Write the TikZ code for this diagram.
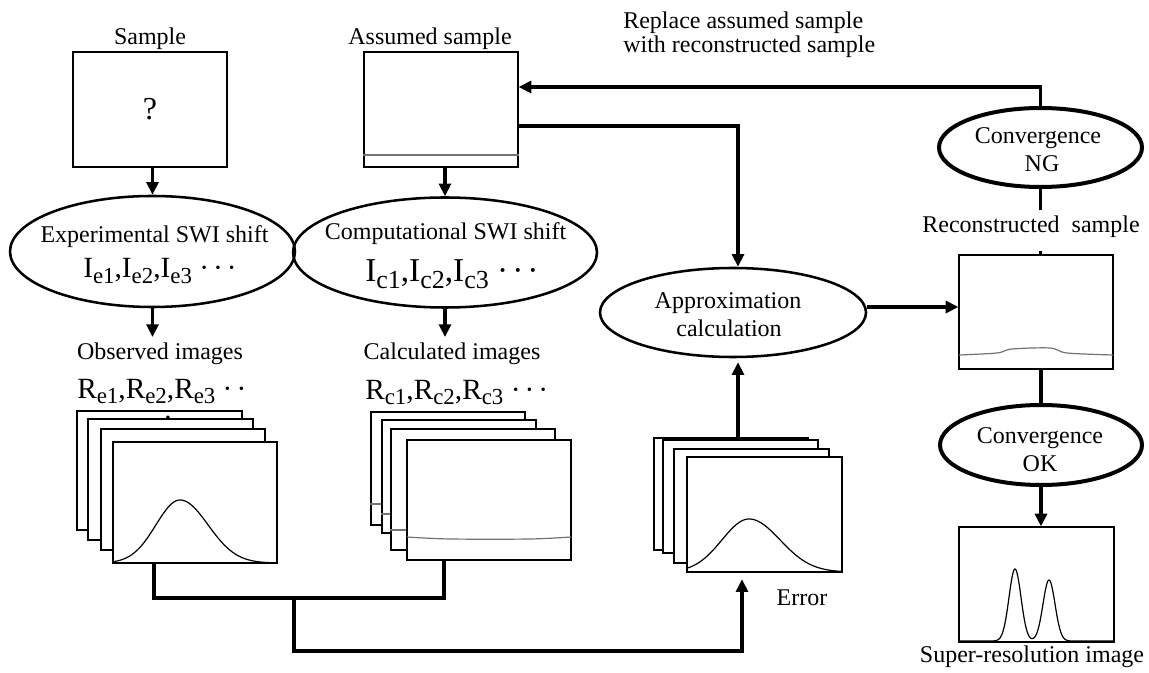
\documentclass[tikz,border=0pt]{standalone}
\usepackage{fontspec}
\setmainfont{Liberation Serif}
\usepackage{graphicx}
\usetikzlibrary{shapes.geometric,arrows.meta}
\newdimen\px \px=0.75pt
\newcommand\sbx[1]{\raisebox{-0.2em}{\scalebox{0.78}{#1}}}
\newcommand\mydots[1]{·\hspace{#1}·\hspace{#1}·}
\newcommand\mytwodots[1]{·\hspace{#1}·}
\begin{document}
\begin{tikzpicture}[x=0.75pt,y=-0.75pt,
  txt/.style={font=\fontsize{18pt}{21pt}\selectfont, inner sep=0pt, anchor=base},
  big/.style={font=\fontsize{22pt}{22pt}\selectfont},
  frame/.style={draw, line width=0.9pt, inner sep=0pt, fill=white},
  oval/.style={ellipse, draw, line width=1.9pt, inner sep=0pt},
  boldoval/.style={ellipse, draw, line width=3pt, inner sep=0pt},
  wire/.style={line width=2.3pt},
  arrow/.style={line width=2.3pt, -{Triangle[length=9.5pt,width=9pt]}},
  layer/.style={draw=black!55, line width=0.9pt},
  curve/.style={line width=0.9pt}]
\useasboundingbox (0,0) rectangle (1149,673);

% ---------- top boxes ----------
\node[frame, minimum width=154\px, minimum height=115\px, font=\fontsize{24pt}{24pt}\selectfont] (samp) at (150,109.5) {?};
\node[txt] (lsamp) at (150,45) {Sample};
\node[frame, minimum width=154\px, minimum height=115\px] (assm) at (441,109.5) {};
\draw[layer] (assm.west |- 0,155) -- (assm.east |- 0,155);
\node[txt] (lassm) at (430,45) {Assumed sample};
\node[txt, anchor=base west] (rep1) at (623,29) {Replace assumed sample};
\node[txt, anchor=base west] (rep2) at (623,53) {with reconstructed sample};

% ---------- SWI ellipses ----------
\node[oval, minimum width=285\px, minimum height=111\px] (expell) at (152.5,251.5) {};
\node[oval, minimum width=304\px, minimum height=110\px] (compell) at (445,252.5) {};
\node[txt] (texp) at (154.5,243) {Experimental SWI shift};
\node[txt] (tcomp) at (445.5,240) {Computational SWI shift};
\node[txt, anchor=base west, font=\fontsize{22pt}{22pt}\selectfont] (iexp) at (83,278) {I\sbx{e1},I\sbx{e2},I\sbx{e3}\ \mydots{3pt}};
\node[txt, anchor=base west, font=\fontsize{25pt}{25pt}\selectfont] (icomp) at (365,282) {I\sbx{c1},I\sbx{c2},I\sbx{c3}\ \mydots{3pt}};

\draw[arrow] (samp.south -| expell.north) -- (expell.north);
\draw[arrow] (assm.south -| compell.north) -- (compell.north);
\coordinate (obtip) at (152.5,337);
\coordinate (cctip) at (445,337);
\draw[arrow] (expell.south) -- (obtip);
\draw[arrow] (compell.south) -- (cctip);

% ---------- image labels ----------
\node[txt] (lobs) at (160,360) {Observed images};
\node[txt] (lcal) at (452,359) {Calculated images};
\node[txt, big, anchor=base west] (rexp) at (77,398) {R\sbx{e1},R\sbx{e2},R\sbx{e3}\ \mytwodots{3pt}};
\node[txt, big, anchor=base west] (rcal) at (365,399) {R\sbx{c1},R\sbx{c2},R\sbx{c3}\ \mydots{3pt}};

% ---------- observed stack ----------
\node[frame, minimum width=165\px, minimum height=119\px] (o1) at (159.5,470.5) {};
\node[frame, minimum width=165\px, minimum height=121\px] (o2) at (170.5,479.5) {};
\node[frame, minimum width=164\px, minimum height=121\px] (o3) at (183,489.5) {};
\node[frame, minimum width=164\px, minimum height=121\px] (o4) at (195,502.5) {};
\draw[curve] plot[domain=113:180, samples=60, smooth] (\x, {563-63*exp(max(-10,-0.5*((\x-180)/24)*((\x-180)/24)))})
  -- plot[domain=180:277, samples=80, smooth] (\x, {563-63*exp(max(-10,-0.5*((\x-180)/28)*((\x-180)/28)))});
\node[txt, big] (rdot) at (168,427) {·};

% ---------- calculated stack ----------
\node[frame, minimum width=154\px, minimum height=113\px] (c1) at (448,468.5) {};
\draw[layer] (c1.west |- 0,504) -- (c1.east |- 0,504);
\node[frame, minimum width=154\px, minimum height=113\px] (c2) at (459,476.5) {};
\draw[layer] (c2.west |- 0,514) -- (c2.east |- 0,514);
\node[frame, minimum width=164\px, minimum height=121\px] (c3) at (473,489.5) {};
\draw[layer] (c3.west |- 0,530) -- (c3.east |- 0,530);
\node[frame, minimum width=164\px, minimum height=120\px] (c4) at (489,500) {};
\draw[layer] plot[smooth] coordinates {(407,537) (450,539) (530,539) (571,537)};

% ---------- error stack ----------
\node[frame, minimum width=154\px, minimum height=112\px] (e1) at (731,494) {};
\node[frame, minimum width=155\px, minimum height=113\px] (e2) at (740.5,496.5) {};
\node[frame, minimum width=155\px, minimum height=114\px] (e3) at (751.5,506) {};
\node[frame, minimum width=155\px, minimum height=115\px] (e4) at (764.5,514.5) {};
\draw[curve] plot[domain=687:749, samples=60, smooth] (\x, {572-53*exp(max(-10,-0.5*((\x-749)/27)*((\x-749)/27)))})
  -- plot[domain=749:842, samples=80, smooth] (\x, {572-53*exp(max(-10,-0.5*((\x-749)/31)*((\x-749)/31)))});
\node[txt] (lerr) at (802,605) {Error};

% ---------- approximation ----------
\node[oval, minimum width=266\px, minimum height=89\px] (approxell) at (733,312.5) {};
\node[txt] (tap1) at (728,309) {Approximation};
\node[txt] (tap2) at (729,337) {calculation};
\coordinate (ac) at (738,126);
\draw[arrow] (assm.east |- ac) -- (ac) -- (ac |- approxell.north);
\draw[arrow, shorten >=3pt] (e1.north -| ac) -- (ac |- approxell.south);

% ---------- right column ----------
\node[frame, minimum width=154\px, minimum height=114\px] (recon) at (1036,312) {};
\draw[layer] plot[smooth] coordinates {(959,355) (997,353) (1012,349) (1050,348) (1067,353) (1113,355)};
\node[txt] (lrecon) at (1031,233) {Reconstructed\ \ sample};
\draw[arrow] (approxell.east |- 0,307) -- (recon.west |- 0,307);

\node[boldoval, minimum width=203\px, minimum height=79\px] (ngell) at (1040.5,147.5) {};
\node[txt] (tng1) at (1038,144) {Convergence};
\node[txt] (tng2) at (1042,172) {NG};
\coordinate (fb) at (1040.5,87);
\draw[arrow] (ngell.north) -- (fb) -- (fb -| assm.east);
\coordinate (ngstub) at (1040.5,210);
\draw[wire] (ngell.south) -- (ngstub);
\draw[wire] (recon.north -| ngstub) -- ++(0,-3);

\node[boldoval, minimum width=202\px, minimum height=80\px] (okell) at (1041,445) {};
\node[txt] (tok1) at (1040,443) {Convergence};
\node[txt] (tok2) at (1040,471) {OK};
\draw[wire] (recon.south -| okell.north) -- (okell.north);

\node[frame, minimum width=155\px, minimum height=115\px] (sres) at (1036.5,584.5) {};
\draw[arrow] (okell.south) -- (okell.south |- sres.north);
\draw[curve] plot[domain=959:1114, samples=240, smooth] (\x, {641-72*exp(max(-10,-0.5*((\x-1015)/6)*((\x-1015)/6)))-61*exp(max(-10,-0.5*((\x-1049)/6)*((\x-1049)/6)))});
\node[txt] (lsres) at (1032,662) {Super-resolution image};

% ---------- bottom connectors ----------
\coordinate (j1) at (154,598);
\coordinate (j2) at (444,598);
\coordinate (j3) at (294,596);
\coordinate (j4) at (294,651);
\coordinate (j5) at (742,651);
\draw[wire] (o4.south -| j1) -- (j1) -- (j2) -- (j2 |- c4.south);
\draw[arrow, shorten >=5pt] (j3) -- (j4) -- (j5) -- (j5 |- e4.south);
\end{tikzpicture}
\end{document}
